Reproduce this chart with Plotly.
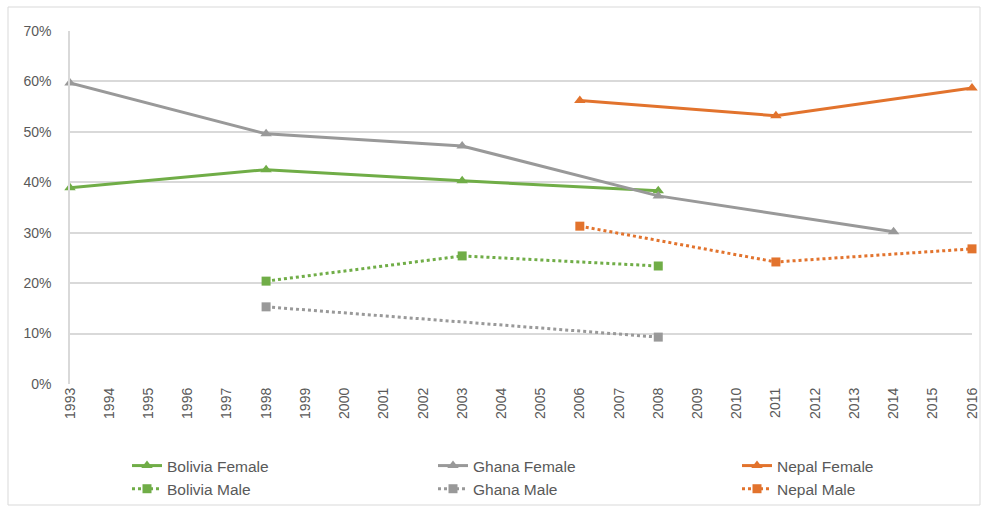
import plotly.graph_objects as go

years = [str(y) for y in range(1993, 2017)]

bolivia_years = ["1993", "1998", "2003", "2008"]
bolivia_female = [0.389, 0.425, 0.403, 0.383]
bolivia_male_years = ["1998", "2003", "2008"]
bolivia_male = [0.204, 0.254, 0.234]

ghana_years = ["1993", "1998", "2003", "2008", "2014"]
ghana_female = [0.597, 0.496, 0.472, 0.373, 0.302]
ghana_male_years = ["1998", "2008"]
ghana_male = [0.153, 0.093]

nepal_years = ["2006", "2011", "2016"]
nepal_female = [0.562, 0.532, 0.587]
nepal_male = [0.313, 0.242, 0.268]

GREEN = "#70AD47"
GRAY = "#999999"
ORANGE = "#E2732D"

W, H = 982, 509

fig = go.Figure()


def add_line(name, x, y, color, female, legend):
    fig.add_trace(go.Scatter(
        x=x, y=y, name=name, mode="lines+markers", legend=legend,
        line=dict(color=color, width=3, dash="solid" if female else "dot"),
        marker=dict(symbol="triangle-up" if female else "square",
                    size=10 if female else 9, color=color),
        cliponaxis=False,
    ))


add_line("Bolivia Female", bolivia_years, bolivia_female, GREEN, True, "legend")
add_line("Bolivia Male", bolivia_male_years, bolivia_male, GREEN, False, "legend")
add_line("Ghana Female", ghana_years, ghana_female, GRAY, True, "legend2")
add_line("Ghana Male", ghana_male_years, ghana_male, GRAY, False, "legend2")
add_line("Nepal Female", nepal_years, nepal_female, ORANGE, True, "legend3")
add_line("Nepal Male", nepal_years, nepal_male, ORANGE, False, "legend3")

font_family = "Liberation Sans, Arial"
legend_font = dict(size=15.5, color="#595959")


def legend_at(px_x, px_y):
    return dict(
        orientation="v", xref="container", yref="container",
        x=px_x / W, xanchor="left", y=1 - px_y / H, yanchor="top",
        font=legend_font, tracegroupgap=0, itemwidth=30,
        bgcolor="rgba(0,0,0,0)",
    )


fig.update_layout(
    width=W, height=H,
    margin=dict(l=70, r=10, t=31, b=125, autoexpand=False),
    paper_bgcolor="white", plot_bgcolor="white",
    font=dict(family=font_family, size=13, color="#595959"),
    xaxis=dict(
        type="category", categoryorder="array", categoryarray=years,
        range=[0, len(years) - 1], tickvals=years, ticktext=years,
        tickangle=-90, tickfont=dict(size=14, color="#595959"),
        showgrid=False, showline=False, zeroline=False,
        ticks="", ticklen=0, automargin=False,
    ),
    yaxis=dict(
        range=[0, 0.7], dtick=0.1, tickformat=".0%",
        showgrid=True, gridcolor="#D9D9D9", gridwidth=1.5,
        zeroline=False, showline=True, linecolor="#D9D9D9", linewidth=1.5,
        tickfont=dict(size=14, color="#595959"), ticks="",
        ticklabelstandoff=14, automargin=False,
    ),
    legend=legend_at(127, 449),
    legend2=legend_at(433, 449),
    legend3=legend_at(737, 449),
    shapes=[dict(
        type="rect", xref="paper", yref="paper",
        x0=-62 / 902, x1=1 + 8 / 902, y0=-(125 - 4) / 353, y1=1 + 24 / 353,
        line=dict(color="#D9D9D9", width=1), fillcolor="rgba(0,0,0,0)",
        layer="below",
    )],
)

fig.write_html("out.html")
